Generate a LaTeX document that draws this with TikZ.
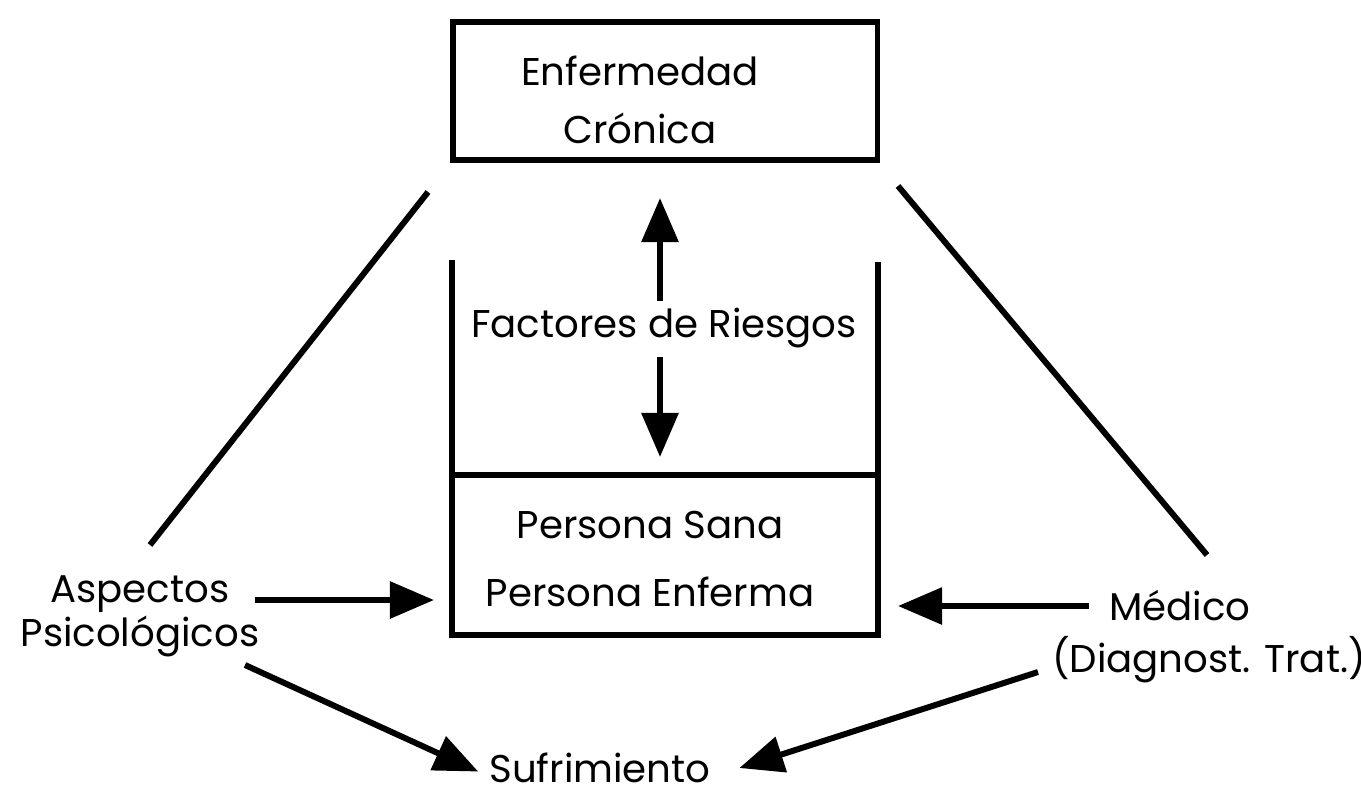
\documentclass[tikz,border=0pt]{standalone}
\usepackage{fontspec}
\setmainfont{Poppins}
\usetikzlibrary{positioning,arrows.meta}

\begin{document}
\begin{tikzpicture}[
        x=0.01cm, y=-0.01cm,
        box_node/.style={draw, line width=1.5pt, minimum width=4.24cm, minimum height=1.38cm},
        label_node/.style={font=\fontsize{11pt}{13pt}\selectfont, align=center, inner sep=0pt},
        thick_line/.style={line width=1.7pt},
        arrow_line/.style={line width=1.7pt, -{Triangle[length=0.44cm, width=0.36cm]}}
        ]
            % frame
            \useasboundingbox (0,0) rectangle (1361,796);

            % boxes
            \node[box_node] (enfermedad) at (665,91) {};
            \draw[line width=1.5pt] (452,260) -- (452,635) -- (878,635) -- (878,262);
            \draw[line width=1.5pt] (452,475) -- (878,475);

            % texts
            \node[label_node] (cronica)     at (640,100) {Enfermedad\\[0.12cm]Crónica};
            \node[label_node] (riesgos)     at (664,328) {Factores de Riesgos};
            \node[label_node] (persona)     at (650,559) {Persona Sana\\[0.22cm]Persona Enferma};
            \node[label_node] (aspectos)    at (140,616) {Aspectos\\[-0.02cm]Psicológicos};
            \node[label_node] (medico)      at (1180,606) {Médico};
            \node[label_node] (diagnostico) at (1209,660) {(Diagnost. Trat.)};
            \node[label_node] (sufrimiento) at (600,768) {Sufrimiento};

            % end points
            \coordinate (enf_left)   at (428,192);
            \coordinate (enf_right)  at (898,186);
            \coordinate (asp_top)    at (150,545);
            \coordinate (med_top)    at (1207,555);
            \coordinate (up_tip)     at (660,198);
            \coordinate (down_tip)   at (660,457);
            \coordinate (box_left)   at (434,600);
            \coordinate (box_right)  at (898,606);

            % lines
            \draw[thick_line] (enf_left) -- (asp_top);
            \draw[thick_line] (enf_right) -- (med_top);

            % arrows
            \draw[arrow_line] (riesgos.north -| up_tip) ++(0,-6) -- (up_tip);
            \draw[arrow_line] (riesgos.south -| down_tip) ++(0,8) -- (down_tip);
            \draw[arrow_line] (aspectos.east |- box_left) ++(-5,0) -- (box_left);
            \draw[arrow_line] (medico.west |- box_right) ++(-20,0) -- (box_right);
            \draw[arrow_line] (245,665) -- ([xshift=-3pt, yshift=-1pt]sufrimiento.west);
            \draw[arrow_line] (1038,672) -- ([xshift=8pt]sufrimiento.east);
        \end{tikzpicture}
\end{document}
